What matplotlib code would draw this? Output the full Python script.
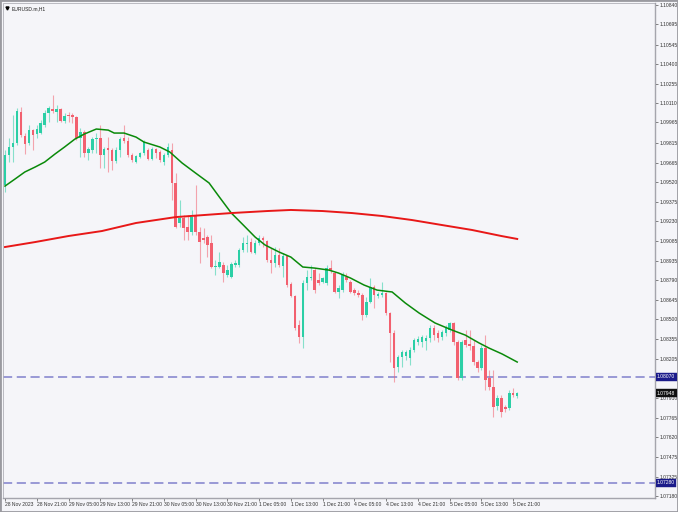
import matplotlib
matplotlib.use("Agg")
import matplotlib.pyplot as plt
from matplotlib.patches import Rectangle

plt.rcParams['font.family'] = ['Liberation Sans', 'DejaVu Sans']

# EURUSD.m H1, 28 Nov 13:00 -> 5 Dec 22:00 (130 bars)
opens = [1.09499, 1.09722, 1.09782, 1.09812, 1.10043, 1.09864, 1.09812, 1.09908, 1.09879, 1.09886,
         1.09946, 1.10035, 1.10065, 1.10043, 1.10065, 1.09976, 1.10020, 1.10020, 1.10005, 1.09849,
         1.09894, 1.09737, 1.09759, 1.09841, 1.09849, 1.09722, 1.09774, 1.09759, 1.09678, 1.09759,
         1.09849, 1.09827, 1.09722, 1.09670, 1.09707, 1.09737, 1.09759, 1.09692, 1.09767, 1.09745,
         1.09670, 1.09722, 1.09759, 1.09514, 1.09216, 1.09253, 1.09186, 1.09149, 1.09275, 1.09149,
         1.09104, 1.09111, 1.09067, 1.08888, 1.08888, 1.08903, 1.08828, 1.08813, 1.08903, 1.08903,
         1.09014, 1.09059, 1.09074, 1.08992, 1.09067, 1.09104, 1.09082, 1.08940, 1.08918, 1.08977,
         1.08895, 1.08970, 1.08761, 1.08672, 1.08456, 1.08366, 1.08769, 1.08806, 1.08865, 1.08791,
         1.08776, 1.08769, 1.08880, 1.08843, 1.08702, 1.08716, 1.08813, 1.08776, 1.08716, 1.08694,
         1.08679, 1.08530, 1.08627, 1.08739, 1.08672, 1.08679, 1.08694, 1.08545, 1.08396, 1.08143,
         1.08217, 1.08225, 1.08210, 1.08269, 1.08329, 1.08329, 1.08337, 1.08359, 1.08433, 1.08396,
         1.08366, 1.08396, 1.08418, 1.08471, 1.08329, 1.08061, 1.08344, 1.08314, 1.08299, 1.08180,
         1.08135, 1.08284, 1.08061, 1.07994, 1.07852, 1.07912, 1.07845, 1.07837, 1.07949, 1.07927]
highs = [1.09759, 1.09849, 1.10020, 1.10072, 1.10080, 1.09886, 1.09946, 1.09916, 1.09946, 1.09983,
         1.10057, 1.10087, 1.10169, 1.10095, 1.10072, 1.10035, 1.10043, 1.10035, 1.10013, 1.09923,
         1.09908, 1.09782, 1.09856, 1.09886, 1.09946, 1.09782, 1.09856, 1.09774, 1.09782, 1.09856,
         1.09946, 1.09856, 1.09737, 1.09722, 1.09745, 1.09834, 1.09774, 1.09782, 1.09774, 1.09759,
         1.09737, 1.09812, 1.09812, 1.09588, 1.09387, 1.09275, 1.09275, 1.09313, 1.09499, 1.09186,
         1.09178, 1.09126, 1.09126, 1.08940, 1.09000, 1.08925, 1.08903, 1.08925, 1.08940, 1.09029,
         1.09111, 1.09126, 1.09104, 1.09089, 1.09126, 1.09119, 1.09089, 1.09029, 1.09037, 1.09029,
         1.08992, 1.08977, 1.08776, 1.08679, 1.08493, 1.08791, 1.08865, 1.08903, 1.08880, 1.08843,
         1.08813, 1.08903, 1.08940, 1.08851, 1.08754, 1.08851, 1.08843, 1.08791, 1.08731, 1.08716,
         1.08694, 1.08664, 1.08806, 1.08754, 1.08702, 1.08776, 1.08702, 1.08553, 1.08418, 1.08232,
         1.08269, 1.08269, 1.08292, 1.08359, 1.08374, 1.08381, 1.08381, 1.08456, 1.08456, 1.08418,
         1.08418, 1.08456, 1.08478, 1.08478, 1.08344, 1.08344, 1.08418, 1.08418, 1.08344, 1.08195,
         1.08307, 1.08381, 1.08120, 1.08120, 1.07934, 1.07934, 1.07860, 1.07971, 1.07986, 1.07957]
lows = [1.09447, 1.09670, 1.09670, 1.09797, 1.09856, 1.09730, 1.09797, 1.09759, 1.09849, 1.09879,
        1.09931, 1.09968, 1.10035, 1.09968, 1.09968, 1.09961, 1.09968, 1.09961, 1.09834, 1.09707,
        1.09707, 1.09685, 1.09737, 1.09737, 1.09625, 1.09625, 1.09596, 1.09611, 1.09663, 1.09707,
        1.09812, 1.09707, 1.09670, 1.09663, 1.09700, 1.09722, 1.09685, 1.09685, 1.09700, 1.09670,
        1.09648, 1.09707, 1.09387, 1.09178, 1.09186, 1.09089, 1.09089, 1.09126, 1.09126, 1.08918,
        1.09067, 1.08962, 1.08880, 1.08828, 1.08880, 1.08776, 1.08813, 1.08806, 1.08888, 1.08888,
        1.09000, 1.09000, 1.08992, 1.08985, 1.09052, 1.09037, 1.08925, 1.08843, 1.08888, 1.08888,
        1.08813, 1.08739, 1.08664, 1.08418, 1.08322, 1.08284, 1.08716, 1.08791, 1.08694, 1.08754,
        1.08769, 1.08754, 1.08843, 1.08694, 1.08657, 1.08702, 1.08776, 1.08694, 1.08679, 1.08664,
        1.08493, 1.08515, 1.08620, 1.08582, 1.08657, 1.08664, 1.08530, 1.08180, 1.08031, 1.08106,
        1.08143, 1.08195, 1.08158, 1.08255, 1.08307, 1.08292, 1.08269, 1.08329, 1.08344, 1.08329,
        1.08344, 1.08374, 1.08404, 1.08307, 1.08046, 1.08046, 1.08292, 1.08269, 1.08158, 1.08106,
        1.08120, 1.07971, 1.07971, 1.07770, 1.07822, 1.07770, 1.07808, 1.07822, 1.07919, 1.07912]
closes = [1.09722, 1.09782, 1.09812, 1.10050, 1.09871, 1.09804, 1.09908, 1.09871, 1.09916, 1.09961,
          1.10035, 1.10072, 1.10050, 1.10065, 1.09976, 1.10013, 1.10013, 1.10005, 1.09849, 1.09894,
          1.09737, 1.09767, 1.09841, 1.09849, 1.09722, 1.09767, 1.09759, 1.09678, 1.09759, 1.09841,
          1.09827, 1.09722, 1.09685, 1.09715, 1.09737, 1.09819, 1.09692, 1.09767, 1.09737, 1.09685,
          1.09722, 1.09782, 1.09514, 1.09186, 1.09253, 1.09178, 1.09149, 1.09260, 1.09149, 1.09074,
          1.09089, 1.09052, 1.08888, 1.08895, 1.08925, 1.08843, 1.08865, 1.08910, 1.08918, 1.09014,
          1.09067, 1.09067, 1.09000, 1.09067, 1.09104, 1.09089, 1.08940, 1.08918, 1.08977, 1.08903,
          1.08970, 1.08754, 1.08672, 1.08433, 1.08366, 1.08769, 1.08813, 1.08813, 1.08716, 1.08769,
          1.08806, 1.08880, 1.08865, 1.08702, 1.08731, 1.08828, 1.08791, 1.08702, 1.08694, 1.08679,
          1.08530, 1.08627, 1.08739, 1.08679, 1.08687, 1.08694, 1.08545, 1.08396, 1.08135, 1.08217,
          1.08255, 1.08255, 1.08269, 1.08344, 1.08351, 1.08366, 1.08359, 1.08433, 1.08381, 1.08359,
          1.08404, 1.08433, 1.08471, 1.08329, 1.08061, 1.08329, 1.08307, 1.08300, 1.08180, 1.08135,
          1.08284, 1.08046, 1.07994, 1.07845, 1.07912, 1.07808, 1.07830, 1.07949, 1.07934, 1.07948]

# moving averages, sampled along the bars
ma_fast_bar = [0, 2.5, 5, 7.6, 10, 12.6, 15, 17.6, 20, 23, 26, 27.5, 30, 33, 35, 39, 41.5, 44.6,
               48, 51.4, 54, 57, 60, 63, 65.5, 66.5, 69, 72, 75, 78, 81.6, 84, 87, 90.4, 93.7,
               97.5, 100.8, 104.3, 108.3, 112.6, 115.9, 119.4, 121.9, 125.2, 129]
ma_fast = [1.09491, 1.09543, 1.09596, 1.09633, 1.09670, 1.09730, 1.09782, 1.09841, 1.09879,
           1.09916, 1.09908, 1.09886, 1.09886, 1.09856, 1.09819, 1.09782, 1.09745, 1.09663,
           1.09588, 1.09514, 1.09409, 1.09290, 1.09201, 1.09111, 1.09052, 1.09037, 1.09000,
           1.08962, 1.08888, 1.08880, 1.08865, 1.08843, 1.08806, 1.08754, 1.08716, 1.08702,
           1.08620, 1.08545, 1.08471, 1.08418, 1.08381, 1.08322, 1.08284, 1.08240, 1.08180]
ma_slow_bar = [0, 7.6, 16, 24.4, 33, 43, 50, 57, 66, 72, 80, 87.4, 95, 102.5, 110, 117.6, 125, 129]
ma_slow = [1.09037, 1.09074, 1.09119, 1.09156, 1.09216, 1.09260, 1.09275, 1.09290, 1.09305,
           1.09313, 1.09305, 1.09290, 1.09268, 1.09238, 1.09201, 1.09164, 1.09119, 1.09097]

levels = [1.08070, 1.07280]
last_price = 1.07948

ytick_labels = ['1.10840', '1.10695', '1.10545', '1.10400', '1.10255', '1.10110', '1.09965',
                '1.09815', '1.09665', '1.09520', '1.09375', '1.09230', '1.09085', '1.08935',
                '1.08790', '1.08645', '1.08500', '1.08355', '1.08205', '1.07910',
                '1.07765', '1.07620', '1.07475', '1.07325', '1.07180']
xtick_bars = [0, 8, 16, 24, 32, 40, 48, 56, 64, 72, 80, 88, 96, 104, 112, 120, 128]
xtick_labels = ['28 Nov 2023', '28 Nov 21:00', '29 Nov 05:00', '29 Nov 13:00', '29 Nov 21:00',
                '30 Nov 05:00', '30 Nov 13:00', '30 Nov 21:00', '1 Dec 05:00', '1 Dec 13:00',
                '1 Dec 21:00', '4 Dec 05:00', '4 Dec 13:00', '4 Dec 21:00', '5 Dec 05:00',
                '5 Dec 13:00', '5 Dec 21:00']

bg = '#F5F5F9'
up_col = '#2BCFA6'
dn_col = '#F2606F'

fig = plt.figure(figsize=(6.78, 5.12), dpi=100, facecolor=bg)
ax = fig.add_axes([3 / 678, 14 / 512, 652 / 678, 495 / 512])
ax.set_facecolor(bg)

# candles
for i in range(len(opens)):
    o, h, l, c = opens[i], highs[i], lows[i], closes[i]
    col = up_col if c >= o else dn_col
    ax.vlines(i, l, h, color=col, linewidth=0.8, alpha=0.55, zorder=2)
    lo = min(o, c)
    hgt = max(abs(c - o), 0.00004)
    ax.bar(i, hgt, bottom=lo, width=0.62, color=col, linewidth=0, zorder=3)

ax.plot(ma_fast_bar, ma_fast, color='#0A8A0A', linewidth=1.1, zorder=4)
ax.plot(ma_slow_bar, ma_slow, color='#E81818', linewidth=1.4, zorder=4)

for lv in levels:
    ax.axhline(lv, color='#8080CC', linewidth=1.1, dashes=(6, 3), zorder=1)

ax.set_xlim(-0.5, 163.7)
ax.set_ylim(1.07167, 1.10855)

ax.yaxis.tick_right()
ax.set_yticks([float(s) for s in ytick_labels])
ax.set_yticklabels(ytick_labels)
ax.set_xticks(xtick_bars)
ax.set_xticklabels(xtick_labels)
for lab in ax.get_xticklabels():
    lab.set_horizontalalignment('left')
ax.tick_params(axis='both', length=2, width=0.5, color='#555555', labelsize=3.6,
               labelcolor='#333333', pad=1)

for side in ['top', 'left']:
    ax.spines[side].set_visible(False)
ax.spines['right'].set_color('#707078')
ax.spines['bottom'].set_color('#707078')
ax.spines['right'].set_linewidth(0.9)
ax.spines['bottom'].set_linewidth(0.9)

# price boxes on the scale
boxes = [(levels[0], '#1B1B8A'), (last_price, '#101010'), (levels[1], '#1B1B8A')]
for val, fc in boxes:
    ax.annotate('%.5f' % val, xy=(1.0, val), xycoords=('axes fraction', 'data'),
                xytext=(1.5, 0), textcoords='offset points', fontsize=3.6, color='white',
                va='center', ha='left', zorder=10, annotation_clip=False,
                bbox=dict(boxstyle='square,pad=0.25', fc=fc, ec=fc, lw=0.3))

# symbol caption
ax.plot([0.006], [0.989], marker='v', markersize=2.2, color='black', transform=ax.transAxes,
        clip_on=False)
ax.text(0.013, 0.989, 'EURUSD.m,H1', transform=ax.transAxes, fontsize=3.6, color='#222222',
        va='center', ha='left')

fig.patches.append(Rectangle((0, 0), 1, 1, transform=fig.transFigure, fill=False,
                             edgecolor='#9A9AA0', linewidth=2.0))
fig.patches.append(Rectangle((3 / 678, 14 / 512), 652 / 678, 495 / 512,
                             transform=fig.transFigure, fill=False,
                             edgecolor='#B0B0B8', linewidth=0.6))

fig.savefig('out.png', dpi=100, facecolor=bg)
